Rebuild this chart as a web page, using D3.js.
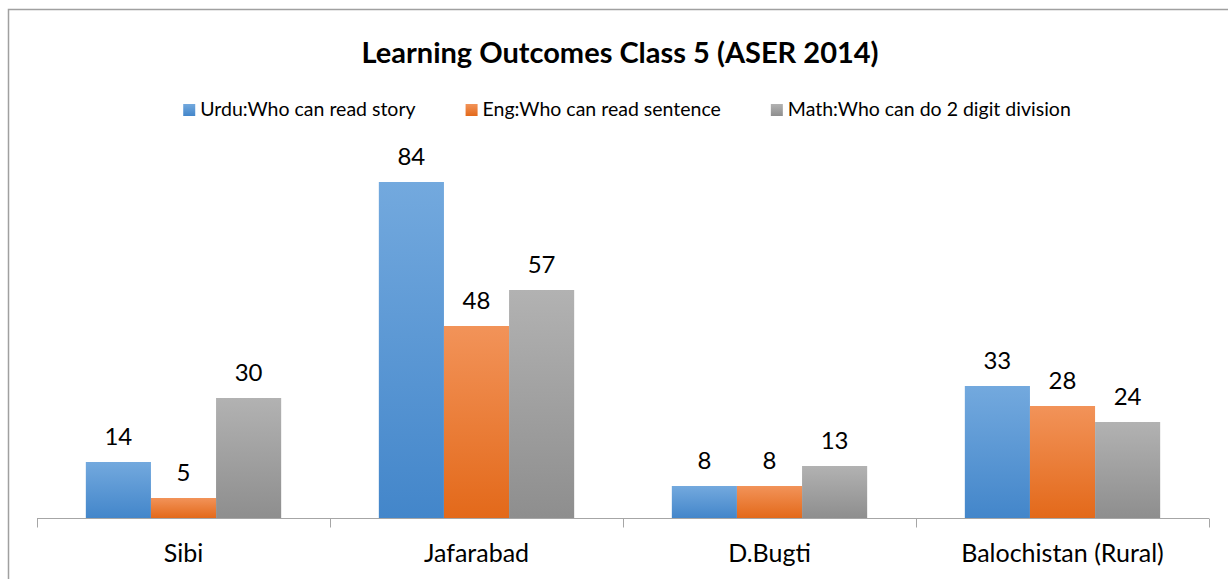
<!DOCTYPE html>
<html>
<head>
<meta charset="utf-8">
<script src="https://cdn.jsdelivr.net/npm/d3@7"></script>
<style>
  body { margin: 0; background: #fff; }
  text { font-family: Lato, "Open Sans", sans-serif; fill: #000; }
</style>
</head>
<body>
<div class="chart"></div>
<script>
// Learning outcomes chart

const categories = ['Sibi', 'Jafarabad', 'D.Bugti', 'Balochistan (Rural)']
const seriesNames = ['Urdu:Who can read story', 'Eng:Who can read sentence', 'Math:Who can do 2 digit division']
const urdu = [14, 84, 8, 33]
const eng = [5, 48, 8, 28]
const math = [30, 57, 13, 24]

const seriesValues = [urdu, eng, math]
const colors = [
    {top: '#73a9de', bottom: '#4386ca'},
    {top: '#f29359', bottom: '#e3691a'},
    {top: '#b2b2b2', bottom: '#8e8e8e'}
]

const width = 1228
const height = 579

const svg = d3.select('.chart')
    .append('svg')
    .attr('width', width)
    .attr('height', height)

// gradients
const defs = svg.append('defs')
colors.forEach((c, i) => {
    const g = defs.append('linearGradient')
        .attr('id', 'grad' + i)
        .attr('x1', 0).attr('y1', 0).attr('x2', 0).attr('y2', 1)
    g.append('stop').attr('offset', '0%').attr('stop-color', c.top)
    g.append('stop').attr('offset', '100%').attr('stop-color', c.bottom)
})

// chart frame
svg.append('rect')
    .attr('x', 8.5).attr('y', 9.5)
    .attr('width', width + 20).attr('height', height + 20)
    .attr('fill', '#fff')
    .attr('stroke', '#a0a0a0')
    .attr('stroke-width', 1.5)

const xScale = d3.scaleBand()
    .domain(categories)
    .range([37, 1209])

const xInner = d3.scaleBand()
    .domain(d3.range(seriesNames.length))
    .range([0, xScale.bandwidth()])
    .paddingOuter(0.75)

const yScale = d3.scaleLinear()
    .domain([0, 90])
    .range([518, 158])

// Title
svg.append('text')
    .attr('x', 620)
    .attr('y', 63)
    .attr('text-anchor', 'middle')
    .style('font-size', '29px')
    .style('font-weight', 'bold')
    .text('Learning Outcomes Class 5 (ASER 2014)')

// Legend
const legend = svg.append('g')
const items = legend.selectAll('g')
    .data(seriesNames)
    .enter()
    .append('g')
items.append('rect')
    .attr('width', 12).attr('height', 12)
    .attr('y', 104)
    .attr('fill', (d, i) => 'url(#grad' + i + ')')
items.append('text')
    .attr('x', 17)
    .attr('y', 116)
    .style('font-size', '19.5px')
    .text(d => d)
let pos = 0
const offsets = []
items.each(function () {
    offsets.push(pos)
    pos += 17 + d3.select(this).select('text').node().getComputedTextLength() + 50
})
const total = pos - 50
items.attr('transform', (d, i) => 'translate(' + (627 - total / 2 + offsets[i]) + ',0)')

// Bars
const groups = svg.selectAll('.group')
    .data(categories)
    .enter()
    .append('g')
    .attr('class', 'group')
    .attr('transform', d => 'translate(' + xScale(d) + ',0)')

groups.selectAll('rect')
    .data((d, ci) => seriesValues.map((s, si) => ({si: si, v: s[ci]})))
    .enter()
    .append('rect')
    .attr('x', d => xInner(d.si))
    .attr('width', xInner.bandwidth())
    .attr('y', d => yScale(d.v))
    .attr('height', d => yScale(0) - yScale(d.v))
    .attr('fill', d => 'url(#grad' + d.si + ')')

groups.selectAll('.val')
    .data((d, ci) => seriesValues.map((s, si) => ({si: si, v: s[ci]})))
    .enter()
    .append('text')
    .attr('class', 'val')
    .attr('x', d => xInner(d.si) + xInner.bandwidth() / 2)
    .attr('y', d => yScale(d.v) - 17)
    .attr('text-anchor', 'middle')
    .style('font-size', '24px')
    .text(d => d.v)

// X-axis
const xAxis = d3.axisBottom(xScale).tickSize(0).tickPadding(0)
const axisG = svg.append('g')
    .attr('transform', 'translate(0,518.5)')
axisG.append('line')
    .attr('x1', 37).attr('x2', 1209)
    .attr('stroke', '#a6a6a6')
axisG.selectAll('.tick-mark')
    .data(d3.range(categories.length + 1))
    .enter()
    .append('line')
    .attr('x1', i => 37.5 + i * xScale.step())
    .attr('x2', i => 37.5 + i * xScale.step())
    .attr('y1', 0).attr('y2', 9)
    .attr('stroke', '#a6a6a6')
axisG.call(xAxis)
axisG.select('.domain').remove()
axisG.selectAll('.tick text')
    .attr('y', 43)
    .attr('dy', 0)
    .style('font-size', '25px')
    .style('font-family', 'Lato, sans-serif')
    .attr('fill', '#000')
</script>
</body>
</html>
